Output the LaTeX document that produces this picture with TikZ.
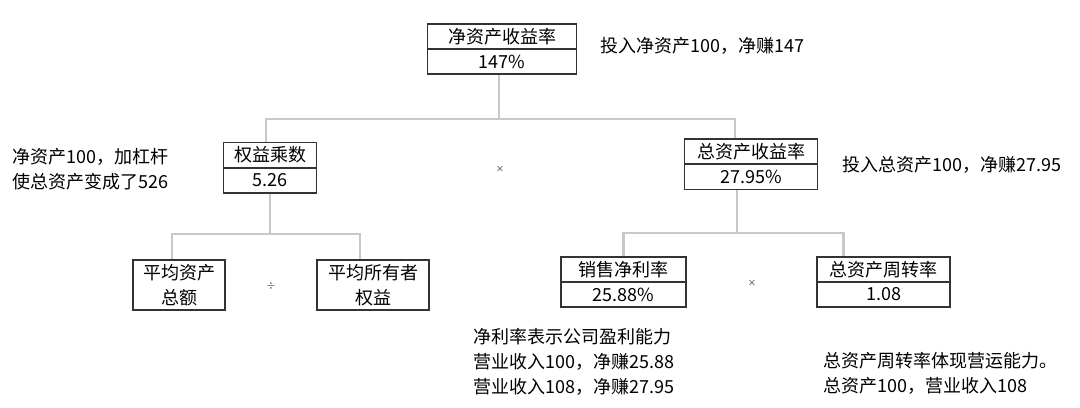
\documentclass[tikz,border=0pt]{standalone}
\usepackage{fontspec}
\setmainfont{Noto Sans CJK SC}
\usetikzlibrary{positioning}
\definecolor{linegray}{HTML}{C8C8C8}
\tikzset{
  cell/.style={draw=black!80,line width=1pt,inner sep=0pt,minimum height=0.63cm},
  note/.style={anchor=west,align=left,inner sep=0pt},
  link/.style={draw=linegray,line width=1.5pt}
}
\begin{document}
\fontsize{12.8}{17.7}\selectfont
\begin{tikzpicture}[x=0.025cm,y=-0.025cm]
    % Frame
    \useasboundingbox (0,0) rectangle (1080,408);
    % Boxes
    \node(roeT) at (502,36.5)  [cell,minimum width=3.73cm] {净资产收益率};
    \node(roeV) at (502,61.5)  [cell,minimum width=3.73cm] {147\%};
    \node(emT)  at (270,155)   [cell,minimum width=2.33cm] {权益乘数};
    \node(emV)  at (270,180.5) [cell,minimum width=2.33cm] {5.26};
    \node(roaT) at (751,151.5) [cell,minimum width=3.33cm] {总资产收益率};
    \node(roaV) at (751,177)   [cell,minimum width=3.33cm] {27.95\%};
    \node(avgA) at (179,285)   [cell,minimum width=2.3cm,minimum height=1.25cm,align=center] {平均资产\\总额};
    \node(avgE) at (373,285)   [cell,minimum width=2.8cm,minimum height=1.25cm,align=center] {平均所有者\\权益};
    \node(npmT) at (623.5,269.5) [cell,minimum width=3.13cm] {销售净利率};
    \node(npmV) at (623.5,294.5) [cell,minimum width=3.13cm] {25.88\%};
    \node(tatT) at (883.5,269.5) [cell,minimum width=3.33cm] {总资产周转率};
    \node(tatV) at (883.5,294.5) [cell,minimum width=3.33cm] {1.08};
    % Operators
    \node(mulA) at (500,169) {\scriptsize$\times$};
    \node(divB) at (271,286) {\scriptsize$\div$};
    \node(mulC) at (752,283) {\scriptsize$\times$};
    % Notes
    \node(noteRoe) at (600,46)  [note] {投入净资产100，净赚147};
    \node(noteEm)  at (12,169.5) [note] {净资产100，加杠杆\\使总资产变成了526};
    \node(noteRoa) at (842,165) [note] {投入总资产100，净赚27.95};
    \node(noteNpm) at (473,362) [note] {净利率表示公司盈利能力\\营业收入100，净赚25.88\\营业收入108，净赚27.95};
    \node(noteTat) at (823,373.5) [note] {总资产周转率体现营运能力。\\总资产100，营业收入108};
    % Links
    \draw[link] ([xshift=-0.07cm]roeV.south) -- ++(0,44) -| ([xshift=-0.1cm]emT.north);
    \draw[link] ([xshift=-0.07cm]roeV.south) -- ++(0,44) -| ([xshift=-0.4cm]roaT.north);
    \draw[link] (emV.south) -- ++(0,40) -| ([xshift=-0.18cm]avgA.north);
    \draw[link] (emV.south) -- ++(0,40) -| ([xshift=-0.33cm]avgE.north);
    \draw[link] ([xshift=-0.35cm]roaV.south) -- ++(0,43) -| (npmT.north);
    \draw[link] ([xshift=-0.35cm]roaV.south) -- ++(0,43) -| ([xshift=-1cm]tatT.north);
\end{tikzpicture}
\end{document}
